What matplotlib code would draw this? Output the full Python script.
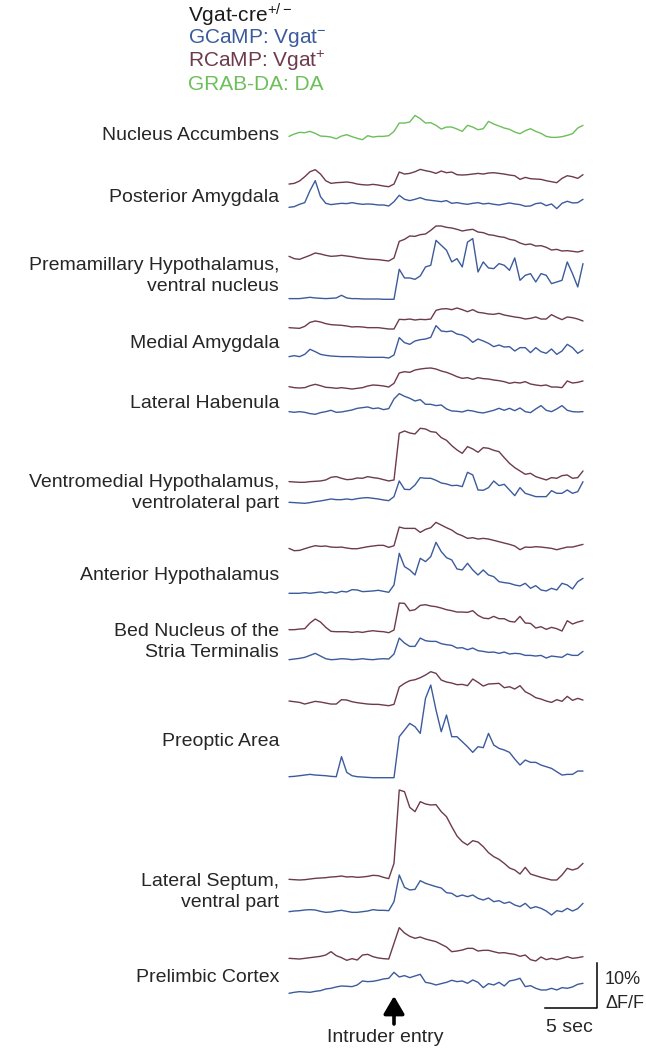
import numpy as np
import matplotlib
matplotlib.use("Agg")
import matplotlib.pyplot as plt

# ---------------- data (ΔF/F in %, relative to each trace's own minimum) ----------------
time_s = np.linspace(-10, 18, 57)  # seconds relative to intruder entry

nac_da = [0.74,1.26,1.63,1.56,1.85,1.41,0.81,0.74,0.59,0.22, 0.81,1.11,0.67,0.30,0.00,0.89,0.59,0.74,0.74,0.89,
          1.85,3.70,3.70,3.93,5.40,4.67,3.70,3.78,3.19,2.37, 2.81,2.81,2.37,1.85,3.19,2.81,2.22,2.44,4.07,3.48,
          3.04,2.59,2.30,1.70,1.33,2.00,2.44,1.85,1.41,0.74, 0.52,0.52,0.67,0.96,1.33,2.59,3.19]
pa_r = [0.59,0.74,1.26,2.22,3.33,3.78,2.81,1.33,0.74,0.89, 0.96,1.04,0.89,0.59,0.44,0.37,0.52,0.37,0.15,0.00,
        0.59,3.26,2.81,2.96,3.33,3.85,3.56,3.33,2.96,3.48, 3.11,3.26,2.67,2.59,2.67,2.81,2.96,2.81,3.04,3.11,
        2.96,2.81,2.59,2.44,1.63,2.07,1.78,1.70,1.63,1.33, 1.11,0.89,1.85,2.44,2.22,1.85,2.67]
pa_g = [0.44,0.59,1.11,1.48,4.15,6.37,2.81,1.33,1.04,1.19, 1.33,1.26,1.48,1.26,1.11,1.19,1.11,0.96,0.96,0.74,
        1.70,3.11,2.22,1.93,2.22,2.59,2.15,2.00,1.85,1.70, 1.93,1.33,1.48,1.26,1.11,1.33,1.48,1.19,1.33,1.11,
        0.96,1.19,1.41,1.19,1.04,0.67,0.74,1.26,1.41,0.81, 1.19,0.15,1.33,1.78,1.41,1.48,2.22]
pmv_r = [1.04,0.52,0.37,0.81,1.26,1.78,1.56,1.26,1.04,1.11, 1.26,1.11,0.96,0.74,0.59,0.44,0.37,0.30,0.15,0.00,
         0.67,4.37,4.81,5.56,5.48,5.85,6.00,6.81,7.78,7.78, 7.48,7.33,7.04,6.67,6.89,7.04,6.44,6.30,5.85,5.70,
         5.41,5.26,4.81,4.59,4.00,3.63,3.78,3.33,3.41,3.04, 2.44,2.59,2.22,2.30,2.15,2.00,2.30]
pmv_g = [0.15,0.15,0.15,0.30,0.44,0.30,0.22,0.15,0.22,0.30, 0.89,0.30,0.15,0.15,0.07,0.07,0.07,0.07,0.00,0.00,
         0.00,6.67,4.74,4.74,4.44,5.19,7.19,7.56,13.1,12.0, 10.9,8.30,9.04,7.19,12.7,13.5,6.07,8.30,6.96,6.81,
         7.93,7.56,6.44,9.19,4.22,5.33,5.70,3.85,5.70,5.33, 3.48,3.85,4.22,8.30,5.70,2.74,7.93]
mea_r = [0.52,0.44,0.37,0.81,1.70,2.00,1.78,1.41,1.19,1.11, 1.04,0.89,0.67,0.74,0.67,0.52,0.52,0.52,0.37,0.22,
         0.22,2.37,2.30,2.44,2.22,2.37,2.30,2.44,4.37,4.67, 4.74,4.52,4.89,4.52,4.07,4.52,3.93,3.78,3.56,3.48,
         3.70,3.33,3.11,2.89,2.74,2.44,2.59,2.89,2.44,2.44, 3.41,2.81,2.30,2.89,2.74,2.44,2.00]
mea_g = [0.30,0.52,0.30,0.81,1.93,1.41,0.81,0.59,0.44,0.37, 0.30,0.30,0.30,0.22,0.22,0.15,0.15,0.15,0.15,0.00,
         0.67,4.52,3.41,3.04,3.78,4.07,4.22,4.59,7.19,6.00, 5.85,6.00,5.33,5.11,4.52,3.48,4.22,3.78,3.26,2.52,
         2.89,2.44,2.52,1.56,2.30,2.30,1.19,2.30,1.41,1.04, 2.00,0.81,1.56,3.04,2.30,1.04,1.78]
lhb_r = [0.52,0.30,0.22,0.30,0.74,1.04,0.74,0.37,0.30,0.15, 0.30,0.15,0.00,0.15,0.30,0.67,0.89,0.81,0.67,0.44,
         1.26,3.56,3.85,3.70,4.22,4.44,4.59,4.67,4.44,4.00, 3.70,3.26,2.74,2.37,2.52,2.15,2.52,2.30,2.22,2.00,
         1.85,1.63,1.26,1.48,1.33,1.63,1.11,0.89,0.74,0.89, 0.44,0.44,0.30,1.78,1.33,1.48,1.78]
lhb_g = [0.59,0.44,0.59,0.44,0.15,0.00,0.37,0.59,0.89,0.44, 0.52,0.74,0.96,1.33,1.48,1.63,1.26,1.41,1.04,1.26,
         3.41,4.59,4.00,3.56,2.96,3.26,2.22,2.22,1.93,2.07, 1.19,0.74,0.67,0.52,0.89,0.74,0.44,0.30,0.59,0.89,
         1.33,0.89,1.33,0.81,1.41,0.59,0.37,1.19,1.93,0.89, 0.59,1.19,1.93,0.89,0.59,0.52,0.59]
vmh_r = [0.15,0.07,0.00,0.00,0.15,0.22,0.30,0.52,1.11,1.26, 0.89,0.59,0.67,0.96,0.89,1.26,1.04,0.89,0.59,0.30,
         0.52,10.9,11.4,10.96,10.74,12.0,11.85,11.26,11.11,9.93, 9.33,8.15,7.19,6.44,7.93,7.41,6.67,7.70,7.56,7.11,
         6.81,5.48,4.22,3.26,2.52,1.78,2.00,1.26,0.89,0.52, 1.04,0.89,1.48,1.63,0.89,1.04,2.52]
vmh_g = [0.22,0.15,0.07,0.00,0.15,0.37,0.52,0.74,0.96,0.81, 0.81,0.96,0.81,1.04,1.19,1.26,1.11,0.96,0.74,0.59,
         1.48,4.96,3.11,3.04,4.07,5.70,5.56,5.56,5.11,4.52, 4.30,3.93,4.00,3.70,6.89,6.30,2.96,2.89,3.48,4.96,
         3.93,4.22,2.96,1.70,3.48,2.22,1.85,1.48,1.48,1.48, 2.81,2.22,2.22,2.96,2.22,2.59,4.81]
ah_r = [0.52,0.00,0.07,0.44,0.81,1.11,0.96,1.04,0.81,0.74, 0.81,0.59,0.44,0.44,0.67,0.89,1.04,1.19,1.19,0.74,
        1.11,5.26,4.96,4.96,4.96,4.07,4.74,5.11,6.30,5.70, 5.11,4.59,3.78,3.33,2.74,2.89,2.59,2.74,2.59,2.30,
        2.00,1.70,1.41,1.04,0.22,0.81,0.74,0.89,0.81,0.67, 0.52,0.22,0.52,0.81,0.81,1.11,1.41]
ah_g = [0.00,0.00,0.00,0.15,0.00,0.15,0.30,0.07,0.30,0.07, 0.44,0.30,0.81,0.74,0.37,0.44,0.52,0.67,0.44,0.22,
        1.85,8.89,5.93,5.19,4.07,7.78,7.04,8.15,11.33,9.26, 7.93,7.41,5.41,5.19,6.67,5.19,4.07,5.19,4.07,3.70,
        2.59,2.37,2.22,1.85,1.63,2.22,1.11,1.70,0.74,0.52, 1.11,0.74,2.22,1.85,0.96,2.59,3.33]
bnst_r = [0.67,0.67,0.81,0.89,2.15,3.04,2.37,1.19,0.30,0.22, 0.22,0.22,0.07,0.22,0.07,0.30,0.44,0.30,0.22,0.00,
          0.59,6.59,6.52,4.89,5.11,6.07,6.22,5.93,5.78,5.48, 5.11,4.89,4.59,4.59,4.52,4.89,3.85,3.26,3.11,3.63,
          3.11,3.11,2.52,2.37,3.63,2.15,2.07,1.04,1.33,0.74, 1.19,0.89,0.37,2.67,1.93,2.37,2.67]
bnst_g = [0.00,0.15,0.30,0.52,0.96,1.41,0.81,0.22,0.00,0.07, 0.22,0.15,0.00,0.07,0.22,0.07,0.00,0.15,0.22,0.15,
          1.26,4.81,3.70,2.96,2.96,4.81,4.22,4.07,4.07,3.56, 3.33,3.19,2.59,2.67,2.22,2.59,2.00,1.85,1.63,1.70,
          1.41,1.70,1.26,1.41,1.33,0.96,0.96,0.81,0.96,0.37, 0.81,0.67,0.52,1.26,0.96,0.96,1.85]
poa_r = [1.26,1.11,0.96,0.59,0.89,1.19,1.04,0.81,0.59,0.59, 1.56,1.48,1.11,0.89,0.74,0.59,0.52,0.52,0.37,0.22,
         0.52,4.37,5.19,5.78,6.00,6.44,7.04,7.78,7.41,5.93, 5.48,5.26,4.89,4.96,4.67,6.15,5.41,4.59,5.04,5.11,
         5.19,4.22,4.44,3.93,4.67,3.33,2.74,2.00,1.70,1.26, 0.96,1.56,1.19,2.30,1.41,1.85,1.48]
poa_g = [0.22,0.30,0.44,0.59,0.74,0.59,0.52,0.44,0.30,0.22, 4.67,1.19,0.44,0.22,0.15,0.07,0.00,0.00,0.00,0.00,
         0.00,9.11,10.59,12.07,11.33,9.85,17.63,20.59,15.04,10.22, 13.93,9.11,9.11,8.00,6.89,5.63,6.89,6.67,9.85,7.26,
         6.52,6.15,5.63,4.15,2.81,3.93,3.41,3.41,2.81,2.44, 2.07,1.33,0.59,0.74,0.74,1.48,1.48]
ls_r = [0.15,0.07,0.00,0.07,0.22,0.37,0.44,0.52,0.67,0.74, 0.89,0.67,0.74,0.59,0.67,0.81,1.04,0.96,0.59,0.30,
        3.70,20.0,19.63,16.15,15.19,17.41,16.89,16.67,16.74,15.19, 14.07,11.85,9.78,8.52,7.78,8.74,8.44,7.41,6.07,5.19,
        4.59,3.70,2.67,2.22,1.33,2.81,1.33,0.96,0.59,0.30, 0.00,0.00,1.11,2.59,2.22,2.59,3.70]
ls_g = [0.74,0.89,0.96,1.11,1.19,1.11,0.81,0.59,0.67,0.89, 1.04,0.81,0.59,0.59,0.74,0.89,1.19,1.04,1.04,0.96,
        2.96,8.89,6.15,5.56,5.70,7.63,7.04,6.67,6.30,6.00, 4.96,4.81,4.07,4.44,4.07,4.44,3.70,3.33,3.78,2.96,
        3.19,2.59,2.89,2.22,1.85,2.59,1.48,1.85,1.48,0.89, 0.00,0.96,0.74,1.48,0.89,1.41,2.59]
pl_r = [0.59,0.52,0.44,0.59,0.74,0.89,1.04,1.33,2.07,1.19, 0.74,0.15,0.52,0.22,1.33,1.48,0.96,0.67,0.52,0.44,
        3.93,7.41,6.22,5.48,5.04,5.33,4.89,4.59,4.30,3.70, 3.11,2.07,2.22,2.44,2.81,2.81,2.22,2.37,2.37,2.07,
        1.78,1.85,1.63,1.48,1.04,1.33,0.30,0.00,0.89,0.30, 0.59,0.30,0.59,0.96,0.59,0.74,0.96]
pl_g = [0.00,0.22,0.37,0.30,0.22,0.44,0.59,0.96,1.11,1.41, 1.63,1.56,1.48,1.85,2.74,2.59,2.67,2.89,3.19,3.33,
        4.67,3.63,3.93,3.48,3.85,4.22,2.44,2.22,1.85,2.15, 2.44,2.89,2.59,2.74,2.22,2.96,2.44,1.26,2.15,1.85,
        2.44,1.63,2.74,2.96,3.33,1.48,1.70,1.11,0.74,0.74, 1.11,0.74,1.26,1.11,1.41,2.00,2.22]

region_labels = ["Nucleus Accumbens", "Posterior Amygdala", "Premamillary Hypothalamus,\nventral nucleus",
                 "Medial Amygdala", "Lateral Habenula", "Ventromedial Hypothalamus,\nventrolateral part",
                 "Anterior Hypothalamus", "Bed Nucleus of the\nStria Terminalis", "Preoptic Area",
                 "Lateral Septum,\nventral part", "Prelimbic Cortex"]
legend_lines = [r"Vgat-cre$^{\mathregular{+/-}}$", r"GCaMP: Vgat$^{\mathregular{-}}$",
                r"RCaMP: Vgat$^{\mathregular{+}}$", "GRAB-DA: DA"]
scale_time_s = 5
scale_dff_pct = 10

# ---------------- style / layout ----------------
W, H = 646, 1050
C_RED = "#6d3a4e"
C_BLUE = "#3c5b9c"
C_GREEN = "#6cbf5a"
C_TXT = "#262626"
FONT = "Liberation Sans"

plt.rcParams["font.family"] = [FONT, "DejaVu Sans"]
plt.rcParams["mathtext.fontset"] = "custom"
plt.rcParams["mathtext.rm"] = FONT
plt.rcParams["mathtext.it"] = FONT

PX_PER_S = 10.5     # horizontal pixels per second
PX_PER_PCT = 4.5    # vertical pixels per 1 % ΔF/F
X0_PX = 289         # pixel position of t = -10 s

fig = plt.figure(figsize=(W / 100, H / 100), dpi=100)
ax = fig.add_axes([0, 0, 1, 1])
ax.set_xlim(-10 - X0_PX / PX_PER_S, -10 + (W - X0_PX) / PX_PER_S)
ax.set_ylim(-H / PX_PER_PCT, 0)
ax.axis("off")


def ypx(py):
    return -py / PX_PER_PCT


traces = [
    (nac_da, C_GREEN, 139.7),
    (pa_r, C_RED, 186.7), (pa_g, C_BLUE, 209.3),
    (pmv_r, C_RED, 261.0), (pmv_g, C_BLUE, 299.3),
    (mea_r, C_RED, 330.0), (mea_g, C_BLUE, 358.0),
    (lhb_r, C_RED, 389.0), (lhb_g, C_BLUE, 414.3),
    (vmh_r, C_RED, 482.3), (vmh_g, C_BLUE, 503.3),
    (ah_r, C_RED, 550.7), (ah_g, C_BLUE, 593.3),
    (bnst_r, C_RED, 632.7), (bnst_g, C_BLUE, 659.7),
    (poa_r, C_RED, 706.7), (poa_g, C_BLUE, 777.7),
    (ls_r, C_RED, 880.0), (ls_g, C_BLUE, 915.0),
    (pl_r, C_RED, 961.0), (pl_g, C_BLUE, 993.3),
]
for vals, col, base in traces:
    ax.plot(time_s, ypx(base) + np.asarray(vals), color=col, lw=1.0,
            solid_joinstyle="round", solid_capstyle="round")

# region labels (right-aligned)
label_y = [135, 197, 276, 343, 404, 493, 576, 642, 741, 892, 977]
for txt, yy in zip(region_labels, label_y):
    fig.text(279 / W, 1 - yy / H, txt, ha="right", va="center", fontsize=14,
             color=C_TXT, linespacing=1.3)

# header legend
leg_colors = ["#1a1a1a", C_BLUE, C_RED, C_GREEN]
leg_y = [15, 38, 61, 84]
for txt, col, yy in zip(legend_lines, leg_colors, leg_y):
    fig.text(188 / W, 1 - yy / H, txt, ha="left", va="center", fontsize=15, color=col)

# scale bar
t_bar_end = (597 - X0_PX) / PX_PER_S - 10
y_bar = ypx(1008)
ax.plot([t_bar_end - scale_time_s, t_bar_end, t_bar_end],
        [y_bar, y_bar, y_bar + scale_dff_pct], color="black", lw=1.1)
fig.text(605 / W, 1 - 980 / H, f"{scale_dff_pct}%", ha="left", va="center", fontsize=13, color=C_TXT)
fig.text(605 / W, 1 - 1004 / H, "ΔF/F", ha="left", va="center", fontsize=13, color=C_TXT)
fig.text(569 / W, 1 - 1027 / H, f"{scale_time_s} sec", ha="center", va="center", fontsize=14, color=C_TXT)

# intruder entry arrow
ax.annotate("", xy=(0, ypx(996)), xytext=(0, ypx(1024)),
            arrowprops=dict(arrowstyle="-|>,head_width=0.35,head_length=0.6", lw=2.6,
                            color="black", mutation_scale=18, shrinkA=0, shrinkB=0))
fig.text(385 / W, 1 - 1038 / H, "Intruder entry", ha="center", va="center", fontsize=14, color=C_TXT)

fig.savefig("out.png", dpi=100)
